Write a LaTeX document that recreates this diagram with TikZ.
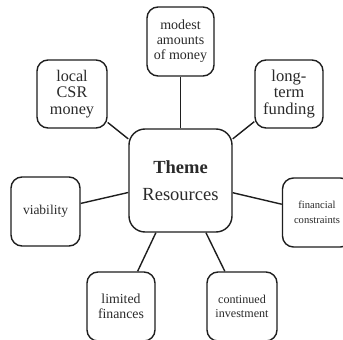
\documentclass[tikz,border=0pt]{standalone}
\usepackage{fontspec}
\setmainfont{Liberation Serif}
\definecolor{ink}{HTML}{1E1E1E}
\definecolor{txt}{HTML}{2A2A2A}
\newcommand{\fsz}[2]{\fontsize{#1}{#2}\selectfont}
\begin{document}
\begin{tikzpicture}[x=1pt,y=-1pt,
  topic/.style={draw=ink, line width=1.4pt, rounded corners=11pt, align=center,
    text=txt, inner sep=0pt, minimum width=#1},
  topic/.default=68pt,
  hub/.style={draw=ink, line width=1.4pt, rounded corners=16pt, align=center,
    text=txt, inner sep=0pt, minimum width=103pt, minimum height=103pt},
  spoke/.style={draw=ink, line width=1.4pt}]
\useasboundingbox (0,0) rectangle (343,340);
\clip (0,0) rectangle (343,340);
\fill[white] (0,0) rectangle (343,340);

% central theme
\node[hub, font=\fsz{18.5}{27}] (hub) at (180.5,180.5)
  {\textbf{Theme}\\Resources};

% surrounding topics
\node[topic=67pt, minimum height=69pt, font=\fsz{14}{15}] (modest) at (180.5,41.5)
  {modest\\amounts\\of money};
\node[topic=70pt, minimum height=68pt, font=\fsz{16.2}{16.8}] (local) at (72,94)
  {local\\CSR\\money};
\node[topic=68pt, minimum height=68pt, font=\fsz{16.6}{16.8}] (longterm) at (289,94)
  {long-\\term\\funding};
\node[topic=69pt, minimum height=69pt, font=\fsz{13.5}{15}] (viab) at (45.5,211.5)
  {viability};
\node[topic=69pt, minimum height=69pt, font=\fsz{10.6}{14.5}] (fincon) at (317,212.5)
  {financial\\constraints};
\node[topic=68pt, minimum height=69pt, font=\fsz{13.8}{15}] (limited) at (121,306.5)
  {limited\\finances};
\node[topic=70pt, minimum height=69pt, font=\fsz{12.1}{14}] (contin) at (242,306.5)
  {continued\\investment};

% spokes from the hub
\foreach \t in {modest,local,longterm,viab,fincon,limited,contin}
  \draw[spoke] (hub) -- (\t);
\end{tikzpicture}
\end{document}
